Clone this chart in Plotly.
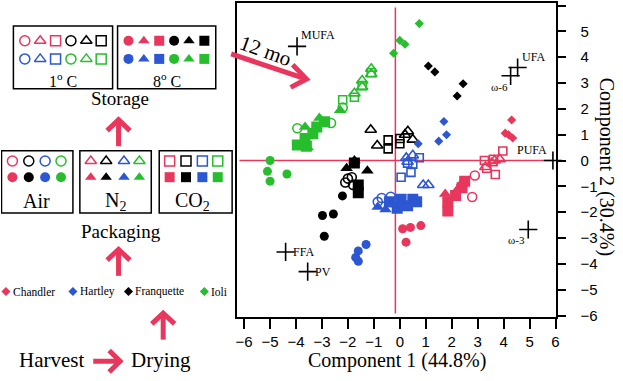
import plotly.graph_objects as go

# ---------------- data ----------------
# treatment codes: dry = after drying (diamond), air/n2/co2 = packaging, 1 / 8 = storage temperature
chandler_pc1 = [4.31, 4.06, 4.19, 4.35, 2.89, 2.79, 0.11, 0.41, 0.81, 0.24,
                3.30, 3.55, 3.85, 3.65, 1.75, 2.20, 2.40,
                3.26, 3.61, 3.97, 3.68, 3.35, 1.85, 1.85, 2.15, 2.40, 2.50]
chandler_pc2 = [1.57, 1.06, 1.00, 0.87, -0.58, -1.41, -2.64, -2.59, -2.52, -3.16,
                -0.25, -0.10, 0.05, 0.00, -1.30, -1.15, -0.85,
                0.00, 0.05, 0.37, -0.54, -0.30, -1.95, -1.60, -1.35, -1.05, -0.80]
chandler_trt = ["dry"] * 4 + ["air1"] * 2 + ["air8"] * 4 + ["n21"] * 4 + ["n28"] * 3 + \
               ["co21"] * 5 + ["co28"] * 5

hartley_pc1 = [1.70, 1.80, 1.50, 0.71, -0.70, -0.35, -0.85, -1.30, -1.60, -1.70, -1.60,
               0.25, 0.50, 0.30, 0.90, 1.10, -0.85, -0.55, -0.25,
               0.05, 0.43, 0.50, 0.75, 0.30, -0.40, 0.05, 0.50, 0.30, -0.10, 0.65]
hartley_pc2 = [1.51, 1.00, 0.75, 0.65, -1.45, -1.40, -1.60, -3.25, -3.50, -3.75, -3.90,
               0.10, 0.20, -0.05, -0.95, -0.95, -1.80, -1.90, -1.70,
               -0.65, -0.46, -0.14, 0.11, -0.10, -1.60, -1.50, -1.50, -1.75, -1.85, -1.60]
hartley_trt = ["dry"] * 4 + ["air1"] * 3 + ["air8"] * 4 + ["n21"] * 5 + ["n28"] * 3 + \
              ["co21"] * 5 + ["co28"] * 6

franquette_pc1 = [1.10, 1.35, 2.44, 2.21, -2.00, -2.10, -1.80, -1.85, -2.21, -2.98, -2.56, -2.91,
                  -1.12, -0.87, 0.31, 0.50, 0.20, -2.05, -1.25, -1.75,
                  -0.45, -0.45, 0.00, 0.00, -1.75, -1.60, -1.60]
franquette_pc2 = [3.66, 3.43, 2.97, 2.50, -0.70, -0.85, -0.95, -0.65, -1.37, -2.13, -2.07, -2.93,
                  1.19, 0.58, 1.13, 0.81, 1.00, -0.30, -0.40, 0.00,
                  0.80, 0.45, 0.85, 0.65, -0.10, -0.95, -1.25]
franquette_trt = ["dry"] * 4 + ["air1"] * 4 + ["air8"] * 4 + ["n21"] * 5 + ["n28"] * 3 + \
                 ["co21"] * 4 + ["co28"] * 3

ioli_pc1 = [-0.24, 0.00, 0.20, 0.75, -2.20, -2.65, -3.95, -5.00, -5.10, -4.35, -5.00,
            -1.75, -1.45, -1.45, -1.10, -1.10, -3.65, -3.10, -2.30, -3.55,
            -2.20, -1.75, -1.45, -1.10, -3.95, -3.65, -3.35, -3.20, -2.90, -3.60]
ioli_pc2 = [4.15, 4.65, 4.50, 5.30, 2.05, 1.45, 1.25, 0.00, -0.42, -0.52, -0.80,
            2.60, 3.10, 2.85, 3.55, 3.35, 1.30, 1.65, 1.95, 0.50,
            2.35, 2.45, 2.90, 3.40, 0.60, 0.85, 1.05, 1.30, 1.50, 0.55]
ioli_trt = ["dry"] * 4 + ["air1"] * 3 + ["air8"] * 4 + ["n21"] * 5 + ["n28"] * 4 + \
           ["co21"] * 4 + ["co28"] * 6

loading_names = ["MUFA", "UFA", "ω-6", "PUFA", "ω-3", "FFA", "PV"]
loading_pc1 = [-3.96, 4.54, 4.27, 5.90, 4.95, -4.40, -3.55]
loading_pc2 = [4.42, 3.60, 3.28, 0.00, -2.67, -3.54, -4.30]

cultivar_names = ["Chandler", "Hartley", "Franquette", "Ioli"]
axis_ticks = [-6, -5, -4, -3, -2, -1, 0, 1, 2, 3, 4, 5, 6]
x_title = "Component 1 (44.8%)"
y_title = "Component 2 (30.4%)"

# ---------------- styles ----------------
W, H = 623, 381
RED, BLUE, BLACK, GREEN = "#E8365D", "#2C56D2", "#000000", "#27BE2D"
PINK = "#E8365D"
SERIF = "Liberation Serif, Times New Roman, serif"
SANS = "Liberation Sans, Arial, sans-serif"
colors = [RED, BLUE, BLACK, GREEN]
symbols = {"dry": "diamond", "air1": "circle-open", "air8": "circle",
           "n21": "triangle-up-open", "n28": "triangle-up",
           "co21": "square-open", "co28": "square"}
sizes = {"dry": 7, "air1": 9, "air8": 9, "n21": 10, "n28": 11, "co21": 8, "co28": 11}

# plot-area in pixels
PL, PR, PT, PB = 238, 559, 3, 323

fig = go.Figure()

cult_data = [(chandler_pc1, chandler_pc2, chandler_trt),
             (hartley_pc1, hartley_pc2, hartley_trt),
             (franquette_pc1, franquette_pc2, franquette_trt),
             (ioli_pc1, ioli_pc2, ioli_trt)]

order = ["co28", "n28", "air8", "co21", "n21", "air1", "dry"]
for trt in order:
    for (xs, ys, ts), name, col in zip(cult_data, cultivar_names, colors):
        px = [x for x, t in zip(xs, ts) if t == trt]
        py = [y for y, t in zip(ys, ts) if t == trt]
        fig.add_trace(go.Scatter(
            x=px, y=py, mode="markers", name=f"{name} {trt}", showlegend=False,
            marker=dict(symbol=symbols[trt], size=sizes[trt], color=col,
                        line=dict(color=col, width=1.6 if "open" in symbols[trt] else 0)),
            xaxis="x", yaxis="y", hoverinfo="skip"))

# loadings
fig.add_trace(go.Scatter(
    x=loading_pc1, y=loading_pc2, mode="markers", showlegend=False,
    marker=dict(symbol="cross-thin", size=13, line=dict(color="black", width=1.6)),
    xaxis="x", yaxis="y", cliponaxis=False, hoverinfo="skip"))

label_style = {
    "MUFA": dict(xanchor="left", yanchor="bottom", xshift=2, yshift=2, size=12),
    "UFA": dict(xanchor="left", yanchor="bottom", xshift=2, yshift=2, size=12),
    "ω-6": dict(xanchor="right", yanchor="top", xshift=-1, yshift=-3, size=11),
    "PUFA": dict(xanchor="right", yanchor="bottom", xshift=-4, yshift=2, size=12),
    "ω-3": dict(xanchor="right", yanchor="top", xshift=-1, yshift=-3, size=11),
    "FFA": dict(xanchor="left", yanchor="middle", xshift=5, yshift=0, size=12),
    "PV": dict(xanchor="left", yanchor="middle", xshift=5, yshift=0, size=12),
}
annotations = []
for n, lx, ly in zip(loading_names, loading_pc1, loading_pc2):
    s = label_style[n]
    annotations.append(dict(x=lx, y=ly, xref="x", yref="y", text=n, showarrow=False,
                            xanchor=s["xanchor"], yanchor=s["yanchor"], xshift=s["xshift"],
                            yshift=s["yshift"], font=dict(family=SERIF, size=s["size"], color="black")))

shapes = []
# red reference lines
shapes.append(dict(type="line", xref="x", yref="y", x0=-0.17, x1=-0.17, y0=5.92, y1=-5.92,
                   line=dict(color=PINK, width=1.5), layer="below"))
shapes.append(dict(type="line", xref="x", yref="y", x0=-6.18, x1=5.9, y0=0, y1=0,
                   line=dict(color=PINK, width=1.5), layer="below"))

# ---------------- left diagram (pixel coords on hidden full-figure axes) ----------------
def box(x0, y0, x1, y1):
    shapes.append(dict(type="rect", xref="x2", yref="y2", x0=x0, y0=y0, x1=x1, y1=y1,
                       line=dict(color="black", width=1.5), fillcolor="rgba(0,0,0,0)"))

def text(x, y, t, size, angle=0, family=SERIF):
    annotations.append(dict(x=x, y=y, xref="x2", yref="y2", text=t, showarrow=False,
                            textangle=angle, xanchor="center", yanchor="middle",
                            font=dict(family=family, size=size, color="black")))

def arrow(x0, y0, x1, y1, wing1, wing2, w=5):
    shapes.append(dict(type="line", xref="x2", yref="y2", x0=x0, y0=y0, x1=x1, y1=y1,
                       line=dict(color=PINK, width=w)))
    shapes.append(dict(type="path", xref="x2", yref="y2",
                       path=f"M{wing1[0]},{wing1[1]} L{x1},{y1} L{wing2[0]},{wing2[1]}",
                       line=dict(color=PINK, width=w)))

def sym(xs, ys, symbol, cols, size=10):
    fig.add_trace(go.Scatter(x=xs, y=ys, mode="markers", xaxis="x2", yaxis="y2",
                             showlegend=False, hoverinfo="skip", cliponaxis=False,
                             marker=dict(symbol=symbol, size=size, color=cols,
                                         line=dict(color=cols, width=1.5 if "open" in symbol else 0))))

# storage boxes
box(12.5, 26.5, 112.5, 90.5)
box(117.5, 26.5, 216.5, 90.5)
xs1 = [24, 39.5, 55, 70.5, 86, 101]
xs8 = [128.5, 144, 159.5, 174.5, 189.5, 205]
row_syms = ["circle", "triangle-up", "square"]
for k, s in enumerate(row_syms):
    sym([xs1[k], xs1[k + 3]], [41.5, 41.5], s + "-open", [RED, BLACK])
    sym([xs1[k], xs1[k + 3]], [60, 60], s + "-open", [BLUE, GREEN])
    sym([xs8[k], xs8[k + 3]], [41.5, 41.5], s, [RED, BLACK])
    sym([xs8[k], xs8[k + 3]], [60, 60], s, [BLUE, GREEN])
text(62, 81, "1<sup>o</sup> C", 16)
text(167, 81, "8<sup>o</sup> C", 16)
text(120, 100, "Storage", 19)

arrow(118.5, 149, 118.5, 122, (107, 133), (130, 133))

# packaging boxes
box(0.5, 153.5, 72.5, 217)
box(79.5, 153.5, 151.5, 217)
box(159.5, 153.5, 233, 217)
pk_cols = [RED, BLACK, BLUE, GREEN]
for xs, s in [([11.5, 28, 44.5, 60.5], "circle"), ([90.5, 106, 124, 139.5], "triangle-up"),
              ([170, 186.5, 203, 218.5], "square")]:
    sym(xs, [164] * 4, s + "-open", pk_cols)
    sym(xs, [180.5] * 4, s, pk_cols)
text(36, 205, "Air", 20)
text(115, 205, "N<sub>2</sub>", 20)
text(193, 205, "CO<sub>2</sub>", 20)
text(121, 236, "Packaging", 19)

arrow(118.5, 281, 118.5, 254, (107, 265), (130, 265))

# cultivar legend
leg_x = [5, 72.5, 128.5, 205]
sym(leg_x, [297] * 4, "diamond", colors, size=7)
for lx, nm in zip(leg_x, cultivar_names):
    annotations.append(dict(x=lx + 5, y=297, xref="x2", yref="y2", text=nm, showarrow=False,
                            xanchor="left", yanchor="middle",
                            font=dict(family=SERIF, size=11.5, color="black")))

arrow(163.5, 346, 163.5, 319, (152, 330), (175, 330))
text(51, 367, "Harvest", 21)
text(161, 367, "Drying", 21)
arrow(93, 368, 120, 368, (109, 357), (109, 379))

# 12 mo arrow
arrow(232, 55, 308, 80.5, (294, 66), (292, 89), w=5)
text(267, 52, "12 mo", 21, angle=20)

# axis titles
annotations.append(dict(xref="x2", yref="y2", x=399, y=367, text=x_title, showarrow=False,
                        xanchor="center", yanchor="middle",
                        font=dict(family=SERIF, size=20, color="black")))
annotations.append(dict(xref="x2", yref="y2", x=610, y=170, text=y_title, showarrow=False,
                        textangle=90, xanchor="center", yanchor="middle",
                        font=dict(family=SERIF, size=20, color="black")))

fig.update_layout(
    width=W, height=H, autosize=False,
    margin=dict(l=0, r=0, t=0, b=0, pad=0),
    paper_bgcolor="white", plot_bgcolor="rgba(0,0,0,0)",
    showlegend=False,
    xaxis=dict(domain=[PL / W, PR / W], range=[-6.27, 6.0], tickvals=axis_ticks,
               showgrid=False, zeroline=False, showline=True, linecolor="black", linewidth=2,
               mirror=True, ticks="outside", ticklen=10, tickwidth=2, tickcolor="black",
               tickfont=dict(family=SANS, size=15, color="black"), anchor="y", fixedrange=True),
    yaxis=dict(domain=[1 - PB / H, 1 - PT / H], range=[-6.06, 6.1], tickvals=axis_ticks,
               side="right", showgrid=False, zeroline=False, showline=True, linecolor="black",
               linewidth=2, mirror=True, ticks="outside", ticklen=8, tickwidth=2,
               tickcolor="black", tickfont=dict(family=SANS, size=15, color="black"),
               anchor="x", fixedrange=True, ticklabelstandoff=12),
    xaxis2=dict(domain=[0, 1], range=[0, W], visible=False, anchor="y2", fixedrange=True),
    yaxis2=dict(domain=[0, 1], range=[H, 0], visible=False, anchor="x2", fixedrange=True),
    shapes=shapes, annotations=annotations,
)

fig.write_html("out.html", config={"displayModeBar": False},
               post_script="document.body.style.margin='0';document.body.style.overflow='hidden';")
